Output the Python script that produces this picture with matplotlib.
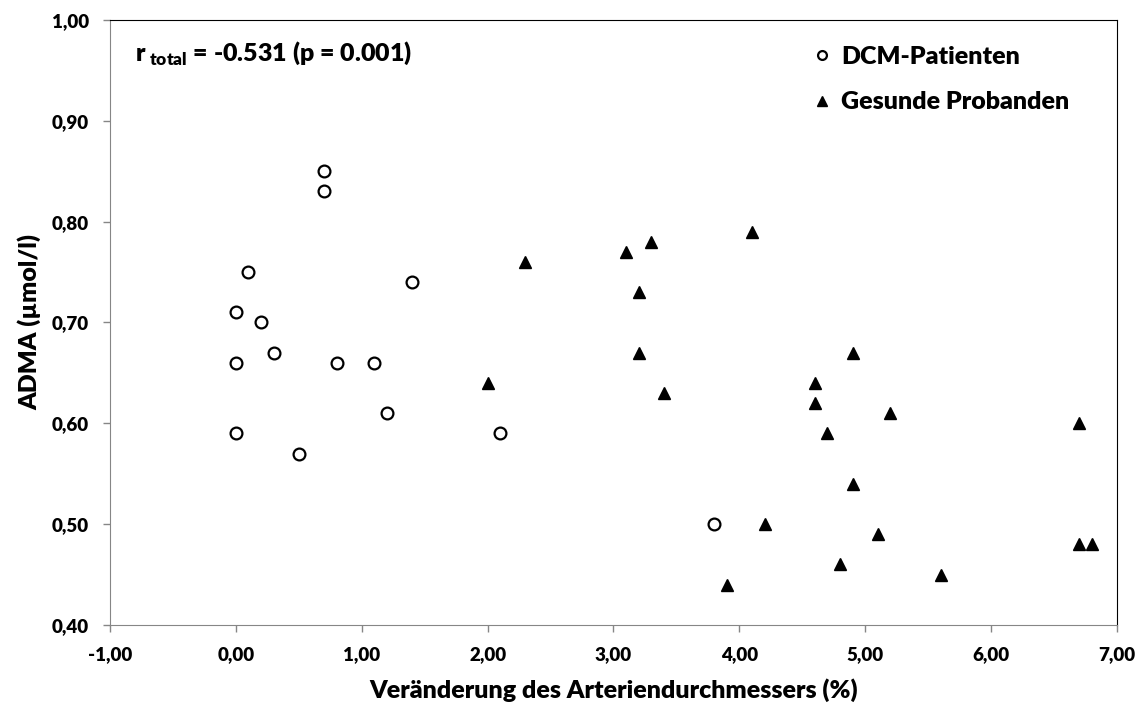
import numpy as np
import matplotlib.pyplot as plt

plt.rcParams['font.family'] = ['Lato', 'DejaVu Sans']
plt.rcParams['font.weight'] = 800
plt.rcParams['mathtext.fontset'] = 'custom'
plt.rcParams['mathtext.bf'] = 'Lato:weight=800'
plt.rcParams['mathtext.rm'] = 'Lato:weight=800'

# DCM-Patienten
dcm_x = [0.7, 0.7, 0.1, 1.4, 0.0, 0.2, 0.3, 0.0, 0.8, 1.1, 1.2, 0.0, 2.1, 0.5, 3.8]
dcm_y = [0.85, 0.83, 0.75, 0.74, 0.71, 0.70, 0.67, 0.66, 0.66, 0.66, 0.61, 0.59, 0.59, 0.57, 0.50]

# Gesunde Probanden
ges_x = [2.3, 3.1, 3.3, 4.1, 3.2, 3.2, 2.0, 3.4, 4.6, 4.6, 4.9, 5.2, 4.7, 6.7, 4.9,
         4.2, 5.1, 4.8, 3.9, 5.6, 6.7, 6.8]
ges_y = [0.76, 0.77, 0.78, 0.79, 0.73, 0.67, 0.64, 0.63, 0.64, 0.62, 0.67, 0.61, 0.59, 0.60, 0.54,
         0.50, 0.49, 0.46, 0.44, 0.45, 0.48, 0.48]

xticks = np.arange(-1, 8, 1)
yticks = np.arange(0.4, 1.01, 0.1)

fig = plt.figure(figsize=(11.48, 7.09), dpi=100)
ax = fig.add_axes([0.0958, 0.1185, 0.8772, 0.8533])

ax.plot(dcm_x, dcm_y, 'o', ms=8.5, mfc='white', mec='black', mew=1.6,
        linestyle='none', label='DCM-Patienten')
ax.plot(ges_x, ges_y, '^', ms=9, color='black', linestyle='none',
        label='Gesunde Probanden')

ax.set_xlim(-1, 7)
ax.set_ylim(0.4, 1.0)
ax.set_xticks(xticks)
ax.set_yticks(yticks)
ax.set_xticklabels([f'{v:.2f}'.replace('.', ',') for v in xticks])
ax.set_yticklabels([f'{v:.2f}'.replace('.', ',') for v in yticks])
ax.tick_params(axis='both', labelsize=13.5, colors='#868686', labelcolor='black',
               direction='out', length=5, width=1)
ax.tick_params(axis='x', pad=10)
ax.tick_params(axis='y', pad=10)

for s in ['left', 'bottom']:
    ax.spines[s].set_color('#868686')
for s in ['top', 'right']:
    ax.spines[s].set_color('black')

ax.set_xlabel('Veränderung des Arteriendurchmessers (%)', fontsize=18,
              fontweight=800, labelpad=11)
ax.set_ylabel('ADMA (µmol/l)', fontsize=18, fontweight=800, labelpad=8)

ax.text(0.025, 0.968, r'r$\,_{\mathbf{total}}$ = -0.531 (p = 0.001)', transform=ax.transAxes,
        fontsize=18, fontweight=800, va='top')

ax.legend(loc='upper right', bbox_to_anchor=(0.975, 0.995), frameon=False,
          fontsize=18, handletextpad=0.0, markerscale=0.75, labelspacing=0.95,
          handlelength=1.5)

fig.savefig('out.png', dpi=100)
